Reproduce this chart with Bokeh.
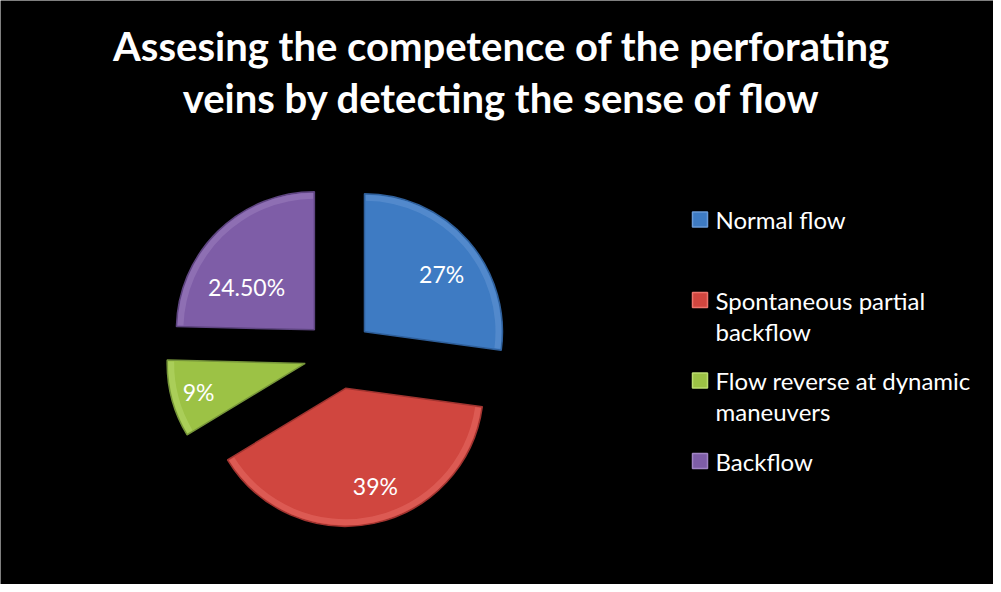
import math
from bokeh.plotting import figure
from bokeh.models import Range1d, Label
from bokeh.core.properties import value
from bokeh.embed import file_html
from bokeh.resources import INLINE

# ---- data ----
categories = ["Normal flow", "Spontaneous partial backflow",
              "Flow reverse at dynamic maneuvers", "Backflow"]
legend_lines = [["Normal flow"], ["Spontaneous partial", "backflow"],
                ["Flow reverse at dynamic", "maneuvers"], ["Backflow"]]
values = [27, 39, 9, 24.5]
value_labels = ["27%", "39%", "9%", "24.50%"]

# ---- style ----
colors = ["#3E7BC3", "#D0463F", "#9CC245", "#7E5DA7"]
rim_colors = ["#6A9BD8", "#EC746C", "#BCDD70", "#A184C4"]
edge_colors = ["#2F5F9A", "#A03430", "#76953A", "#5E4580"]
W, H = 993, 584
S = 138.0              # px per unit radius
CX, CY = 338.0, 354.0  # pie centre in canvas px (from top-left)
EXPLODE = 34.5 / S
# label placement (fraction of radius, clockwise degrees from 12 o'clock), relative to slice apex
label_pos = [(0.70, 53), (0.74, 163), (0.80, 255), (0.58, 302)]
# legend layout in canvas px
LEG_X_BOX, LEG_X_TEXT = 699.5, 715.0
LEG_Y0, LEG_STEP, LEG_LINE = 219.0, 80.5, 31.0


def px_to_data(xp, yp):
    return (xp - CX) / S, (CY - yp) / S


total = sum(values)
starts, ends, ox, oy = [], [], [], []
acc = 0.0
for v in values:
    a0 = acc / total * 2 * math.pi
    acc += v
    a1 = acc / total * 2 * math.pi
    mid = (a0 + a1) / 2
    starts.append(math.pi / 2 - a0)
    ends.append(math.pi / 2 - a1)
    ox.append(EXPLODE * math.sin(mid))
    oy.append(EXPLODE * math.cos(mid))

p = figure(width=W, height=H, output_backend="svg", toolbar_location=None,
           x_range=Range1d(-CX / S, (W - CX) / S),
           y_range=Range1d(-(H - CY) / S, CY / S),
           background_fill_color="black", border_fill_color="black",
           outline_line_color=None, min_border=0)
p.axis.visible = False
p.grid.visible = False

for i in range(len(values)):
    p.wedge(x=ox[i], y=oy[i], radius=1.0, start_angle=starts[i], end_angle=ends[i],
            direction="clock", fill_color=colors[i], line_color=edge_colors[i],
            line_width=1.5)
    # bevel highlight along outer rim
    p.annular_wedge(x=ox[i], y=oy[i], inner_radius=1.0 - 7 / S, outer_radius=1.0 - 1 / S,
                    start_angle=starts[i] - 0.01, end_angle=ends[i] + 0.01,
                    direction="clock", fill_color=rim_colors[i], fill_alpha=0.45,
                    line_color=None)

# value labels
lx, ly = [], []
for i, (fr, ang) in enumerate(label_pos):
    a = math.radians(ang)
    lx.append(ox[i] + fr * math.sin(a))
    ly.append(oy[i] + fr * math.cos(a))
p.text(x=lx, y=ly, text=value_labels, text_color="white", text_font=value("Lato"),
       text_font_size="23px", text_align="center", text_baseline="middle")

# title
p.add_layout(Label(x=501, y=H - 45, x_units="screen", y_units="screen",
                   text="Assesing the competence of the perforating",
                   text_color="white", text_font="Lato", text_font_style="bold",
                   text_font_size="40px", text_align="center", text_baseline="middle"))
p.add_layout(Label(x=501, y=H - 97, x_units="screen", y_units="screen",
                   text="veins by detecting the sense of flow",
                   text_color="white", text_font="Lato", text_font_style="bold",
                   text_font_size="40px", text_align="center", text_baseline="middle"))

# legend (drawn manually so that the marker aligns with the first text line)
bx, by, tx, ty, tt = [], [], [], [], []
for i, lines in enumerate(legend_lines):
    y0 = LEG_Y0 + i * LEG_STEP
    dx, dy = px_to_data(LEG_X_BOX, y0)
    bx.append(dx)
    by.append(dy)
    for j, line in enumerate(lines):
        ddx, ddy = px_to_data(LEG_X_TEXT, y0 + j * LEG_LINE)
        tx.append(ddx)
        ty.append(ddy)
        tt.append(line)
p.scatter(x=bx, y=by, marker="square", size=15, fill_color=colors,
          line_color=rim_colors, line_width=1.5)
p.text(x=tx, y=ty, text=tt, text_color="white", text_font=value("Lato"),
       text_font_size="24px", text_align="left", text_baseline="middle")

open("out.html", "w").write(file_html(p, INLINE))
